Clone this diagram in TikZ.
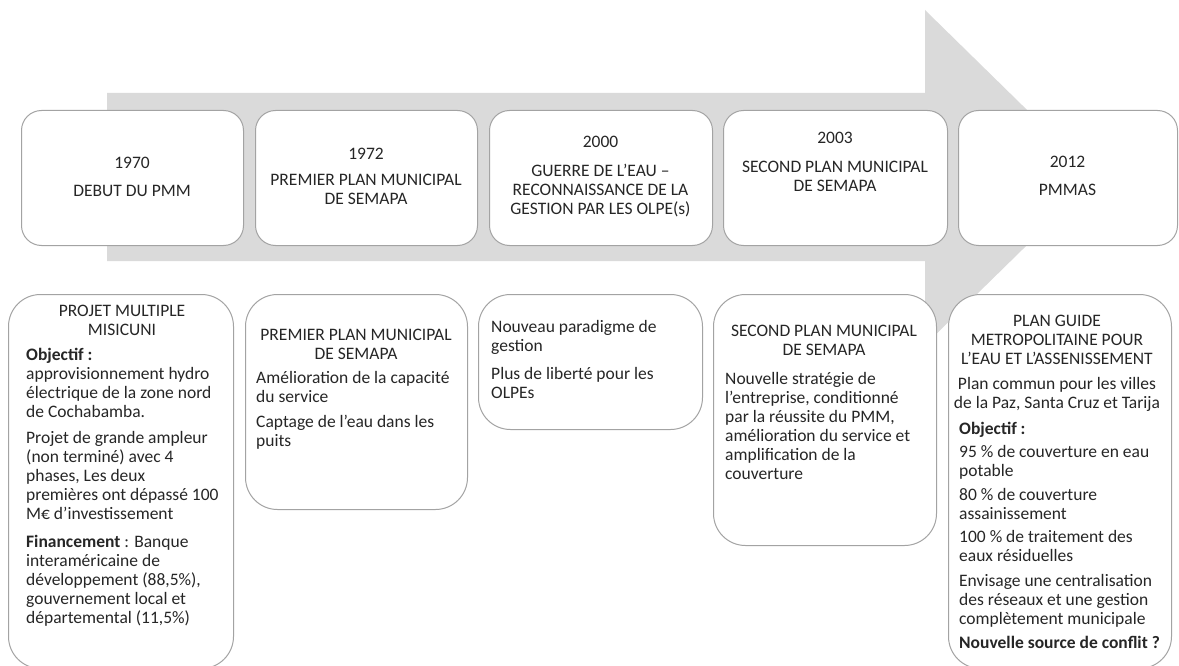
\documentclass[tikz,border=0pt]{standalone}
\usepackage{fontspec}
\setmainfont{Carlito}
\definecolor{arrowgray}{HTML}{DADADA}
\definecolor{edgegray}{HTML}{A3A3A3}
\definecolor{ink}{HTML}{262626}
\begin{document}
\begin{tikzpicture}[x=1pt,y=-1pt,
  topbox/.style={draw=edgegray, line width=1pt, fill=white, rounded corners=20pt,
                 inner sep=0pt, anchor=north west, minimum height=135pt},
  lowbox/.style={draw=edgegray, line width=1pt, fill=white, rounded corners=32pt,
                 inner sep=0pt, anchor=north west},
  % text is placed by the baseline of its first line (strut height 0.7 x 19pt)
  txt/.style={font=\fontsize{17.5}{19}\selectfont, text=ink, inner sep=0pt,
              execute at begin node=\strut, yshift=13.3pt},
  ctr/.style={txt, anchor=north, align=center},
  para/.style={txt, anchor=north west, align=left}]
\useasboundingbox (0,0) rectangle (1179,666);
\clip (0,0) rectangle (1179,666);

% timeline arrow in the background
\fill[arrowgray] (107,93) -- (925,93) -- (925,10) -- (1096,177.5)
  -- (925,345) -- (925,261) -- (107,261) -- cycle;

% milestone boxes on the arrow
\node[topbox, minimum width=222pt] (t1) at (21,110) {};
\node[topbox, minimum width=222pt] (t2) at (255,110) {};
\node[topbox, minimum width=223pt] (t3) at (489,110) {};
\node[topbox, minimum width=224pt] (t4) at (723,110) {};
\node[topbox, minimum width=219pt] (t5) at (958,110) {};

\node[ctr] (t1txt) at (132,170) {1970\\[9pt]DEBUT DU PMM};
\node[ctr] (t2txt) at (366,161) {1972\\[7pt]PREMIER PLAN MUNICIPAL\\DE SEMAPA};
\node[ctr] (t3txt) at (600.5,149) {2000\\[10pt]GUERRE DE L’EAU –\\RECONNAISSANCE DE LA\\GESTION PAR LES OLPE(s)};
\node[ctr] (t4txt) at (835,145) {2003\\[10pt]SECOND PLAN MUNICIPAL\\DE SEMAPA};
\node[ctr] (t5txt) at (1067.5,169) {2012\\[9pt]PMMAS};

% detail boxes below
\node[lowbox, minimum width=225pt, minimum height=374pt] (b1) at (8,294) {};
\node[lowbox, minimum width=222pt, minimum height=215pt] (b2) at (245,294) {};
\node[lowbox, minimum width=224pt, minimum height=135pt] (b3) at (478,294) {};
\node[lowbox, minimum width=223pt, minimum height=251pt] (b4) at (713,294) {};
\node[lowbox, minimum width=223pt, minimum height=374pt] (b5) at (948,294) {};

% 1970
\node[ctr] (b1head) at (122,318) {PROJET MULTIPLE\\MISICUNI};
\node[para] (b1p1) at (26,361) {\textbf{Objectif :}\\approvisionnement hydro\\électrique de la zone nord\\de Cochabamba.};
\node[para] (b1p2) at (26,444) {Projet de grande ampleur\\(non terminé) avec 4\\phases, Les deux\\premières ont dépassé 100\\M€ d’investissement};
\node[para] (b1p3) at (26,548) {\textbf{Financement} : Banque\\interaméricaine de\\développement (88,5\%),\\gouvernement local et\\départemental (11,5\%)};

% 1972
\node[ctr] (b2head) at (356,342) {PREMIER PLAN MUNICIPAL\\DE SEMAPA};
\node[para] (b2p1) at (256,384) {Amélioration de la capacité\\du service};
\node[para] (b2p2) at (256,428) {Captage de l’eau dans les\\puits};

% 2000
\node[para] (b3p1) at (491,333) {Nouveau paradigme de\\gestion};
\node[para] (b3p2) at (491,380) {Plus de liberté pour les\\OLPEs};

% 2003
\node[ctr] (b4head) at (824,338) {SECOND PLAN MUNICIPAL\\DE SEMAPA};
\node[para] (b4p1) at (725,385) {Nouvelle stratégie de\\l’entreprise, conditionné\\par la réussite du PMM,\\amélioration du service et\\amplification de la\\couverture};

% 2012
\node[ctr] (b5head) at (1057,328) {PLAN GUIDE\\METROPOLITAINE POUR\\L’EAU ET L’ASSENISSEMENT};
\node[ctr] (b5sub) at (1057,390) {Plan commun pour les villes\\de la Paz, Santa Cruz et Tarija};
\node[para] (b5p1) at (959,434) {\textbf{Objectif :}};
\node[para] (b5p2) at (959,458) {95 \% de couverture en eau\\potable};
\node[para] (b5p3) at (959,501) {80 \% de couverture\\assainissement};
\node[para] (b5p4) at (959,543) {100 \% de traitement des\\eaux résiduelles};
\node[para] (b5p5) at (959,587) {Envisage une centralisation\\des réseaux et une gestion\\complètement municipale};
\node[para] (b5p6) at (959,648) {\textbf{Nouvelle source de conflit ?}};
\end{tikzpicture}
\end{document}
